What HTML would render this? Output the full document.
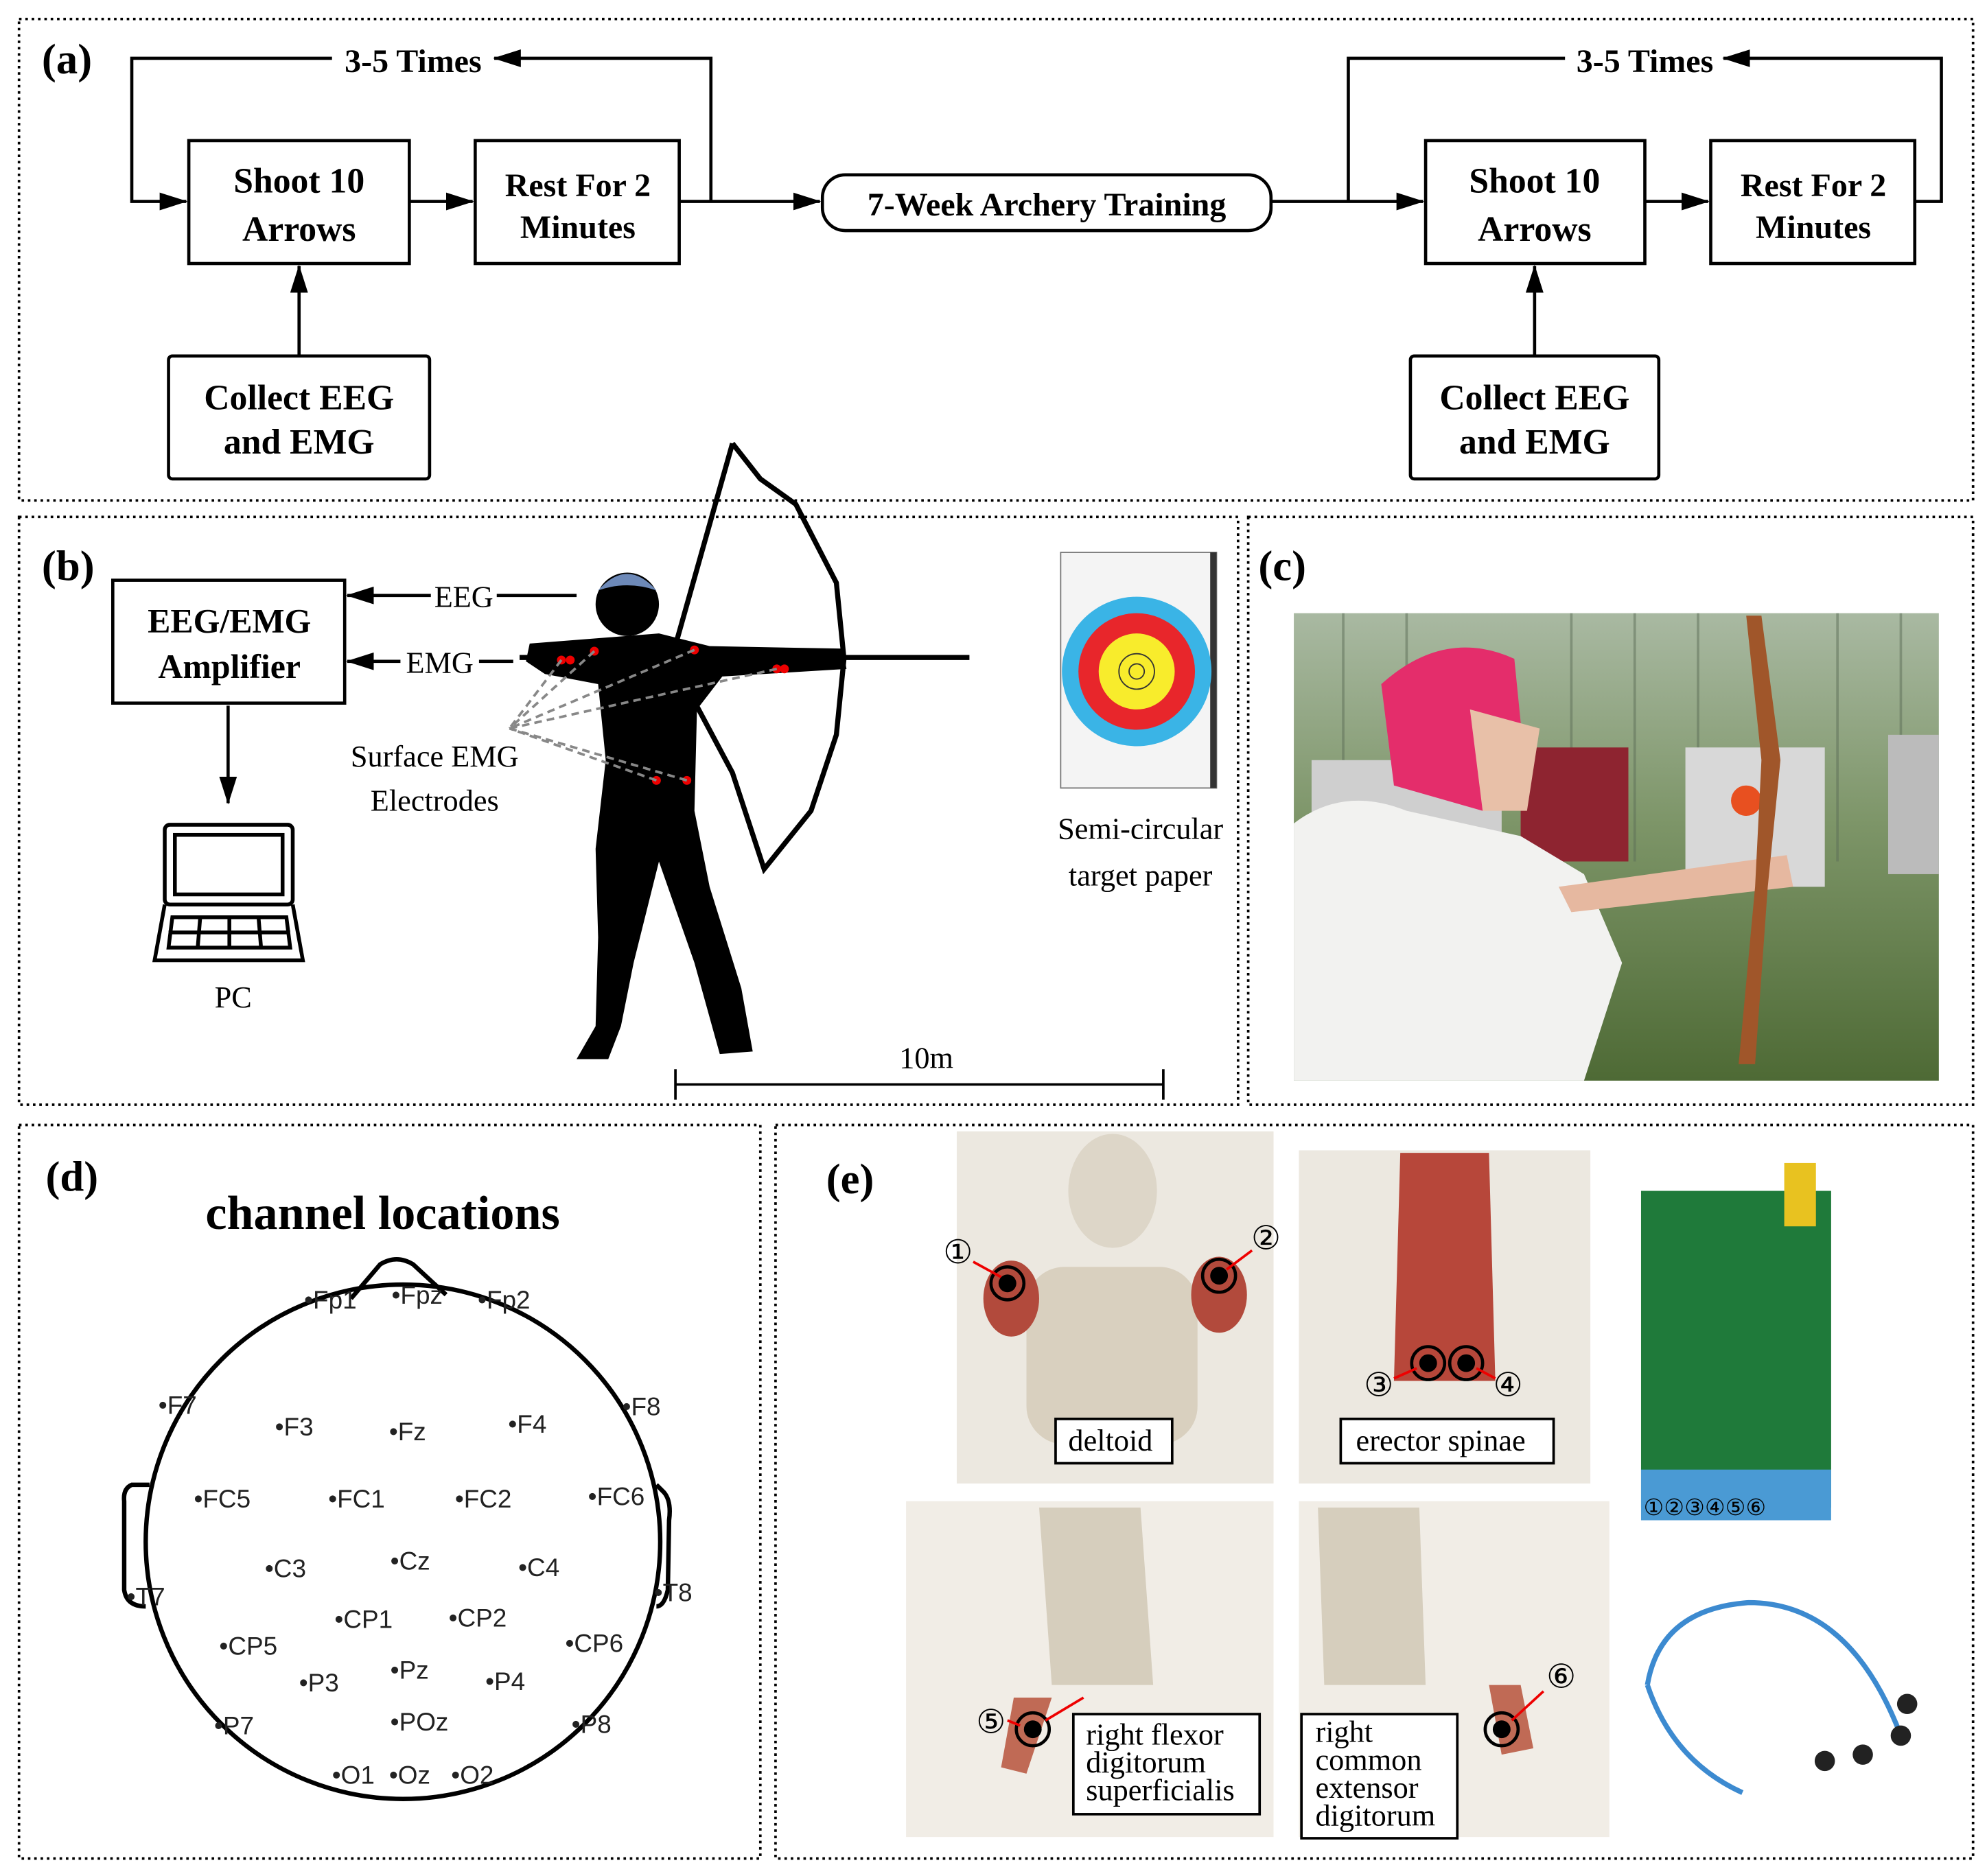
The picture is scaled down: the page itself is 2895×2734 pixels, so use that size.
<!DOCTYPE html>
<html><head><meta charset="utf-8"><style>
html,body{margin:0;padding:0;background:#fff;}
#w{width:2895px;height:2734px;overflow:hidden;position:relative;}
#s{position:absolute;left:0;top:0;width:1568px;height:1481px;transform:scale(1.8463);transform-origin:0 0;}
svg text{font-family:"Liberation Serif",serif;}
svg text.sans{font-family:"Liberation Sans",sans-serif;}
</style></head><body><div id="w"><div id="s">
<svg width="1568" height="1481" viewBox="0 0 1568 1481" xmlns="http://www.w3.org/2000/svg">
<defs>
<marker id="ab" markerWidth="22" markerHeight="14" refX="21" refY="7" orient="auto" markerUnits="userSpaceOnUse"><path d="M0,0 L22,7 L0,14 z" fill="#000"/></marker>
<linearGradient id="ph" x1="0" y1="0" x2="0" y2="1"><stop offset="0" stop-color="#a9b9a2"/><stop offset="0.45" stop-color="#7d9568"/><stop offset="1" stop-color="#4e6a35"/></linearGradient>
</defs>
<g fill="none" stroke="#000" stroke-width="2" stroke-dasharray="2,3">
<rect x="15" y="15" width="1542" height="380"/>
<rect x="15" y="408" width="962" height="464"/>
<rect x="985" y="408" width="572" height="464"/>
<rect x="15" y="888" width="585" height="579"/>
<rect x="612" y="888" width="945" height="579"/>
</g>
<g font-weight="bold" font-size="34">
<text x="33" y="58">(a)</text><text x="33" y="458">(b)</text><text x="993" y="458">(c)</text><text x="36" y="940">(d)</text><text x="652" y="942">(e)</text>
</g>
<!-- (a) -->
<g fill="none" stroke="#000" stroke-width="2.5">
<rect x="149" y="111" width="174" height="97"/><rect x="375" y="111" width="161" height="97"/>
<rect x="649" y="138" width="354" height="44" rx="18"/>
<rect x="1125" y="111" width="173" height="97"/><rect x="1350" y="111" width="161" height="97"/>
<rect x="133" y="281" width="206" height="97" rx="3"/><rect x="1113" y="281" width="196" height="97" rx="3"/>
</g>
<g stroke="#000" stroke-width="2.5" fill="none">
<path d="M323,159 L373,159" marker-end="url(#ab)"/>
<path d="M536,159 L647,159" marker-end="url(#ab)"/>
<path d="M561,159 L561,46 L390,46" marker-end="url(#ab)"/>
<path d="M262,46 L104,46 L104,159 L147,159" marker-end="url(#ab)"/>
<path d="M236,281 L236,210" marker-end="url(#ab)"/>
<path d="M1003,159 L1123,159" marker-end="url(#ab)"/>
<path d="M1298,159 L1348,159" marker-end="url(#ab)"/>
<path d="M1511,159 L1532,159 L1532,46 L1360,46" marker-end="url(#ab)"/>
<path d="M1235,46 L1064,46 L1064,159"/>
<path d="M1211,281 L1211,210" marker-end="url(#ab)"/>
</g>
<g font-weight="bold" text-anchor="middle">
<text x="326" y="57" font-size="26">3-5 Times</text><text x="1298" y="57" font-size="26">3-5 Times</text>
<text x="236" y="152" font-size="28">Shoot 10</text><text x="236" y="190" font-size="28">Arrows</text>
<text x="456" y="155" font-size="26">Rest For 2</text><text x="456" y="188" font-size="26">Minutes</text>
<text x="826" y="170" font-size="26">7-Week Archery Training</text>
<text x="1211" y="152" font-size="28">Shoot 10</text><text x="1211" y="190" font-size="28">Arrows</text>
<text x="1431" y="155" font-size="26">Rest For 2</text><text x="1431" y="188" font-size="26">Minutes</text>
<text x="236" y="323" font-size="28">Collect EEG</text><text x="236" y="358" font-size="28">and EMG</text>
<text x="1211" y="323" font-size="28">Collect EEG</text><text x="1211" y="358" font-size="28">and EMG</text>
</g>
<!-- (b) -->
<rect x="89" y="458" width="183" height="97" fill="none" stroke="#000" stroke-width="2.5"/>
<g font-weight="bold" text-anchor="middle" font-size="27"><text x="181" y="499">EEG/EMG</text><text x="181" y="535">Amplifier</text></g>
<g stroke="#000" stroke-width="2.5" fill="none">
<path d="M340,470 L274,470" marker-end="url(#ab)"/><path d="M455,470 L392,470"/>
<path d="M316,522 L274,522" marker-end="url(#ab)"/><path d="M405,522 L378,522"/>
<path d="M180,557 L180,634" marker-end="url(#ab)"/>
</g>
<g font-size="24" text-anchor="middle"><text x="366" y="479">EEG</text><text x="347" y="531">EMG</text>
<text x="343" y="605">Surface EMG</text><text x="343" y="640">Electrodes</text>
<text x="184" y="795">PC</text><text x="900" y="662">Semi-circular</text><text x="900" y="699">target paper</text>
<text x="731" y="843">10m</text></g>
<g fill="none" stroke="#000" stroke-width="3">
<rect x="130" y="651" width="101" height="63" rx="4"/><rect x="138" y="659" width="85" height="47"/>
<path d="M130,714 L122,758 L239,758 L231,714"/>
<path d="M136,724 L226,724 L229,748 L133,748 z M133,736 L229,736 M158,724 L156,748 M181,724 L181,748 M204,724 L206,748"/>
</g>
<g>
<path d="M578,350 L600,378 L628,398 L660,460 L666,520 L660,580 L640,640 L603,686 L578,610 L530,520 L578,350" fill="none" stroke="#000" stroke-width="4"/>
<path d="M410,519 L765,519" stroke="#000" stroke-width="4"/>
<circle cx="495" cy="477" r="25" fill="#000"/>
<path d="M472,466 Q495,440 518,466 Q495,458 472,466z" fill="#6d89b8"/>
<path d="M418,508 L520,500 L560,510 L665,512 L668,528 L570,534 L550,560 L548,640 L560,700 L585,780 L594,830 L568,832 L548,760 L520,680 L500,760 L490,810 L480,836 L455,836 L470,810 L472,740 L470,670 L478,600 L472,540 L430,532 L415,522z" fill="#000"/>
<g fill="#e00"><circle cx="443" cy="521" r="3.5"/><circle cx="450" cy="521" r="3.5"/><circle cx="469" cy="514" r="3.5"/><circle cx="548" cy="513" r="3.5"/><circle cx="613" cy="528" r="3.5"/><circle cx="619" cy="528" r="3.5"/><circle cx="518" cy="616" r="3.5"/><circle cx="542" cy="616" r="3.5"/></g>
<g stroke="#888" stroke-width="2" stroke-dasharray="6,4" fill="none">
<path d="M443,521 L402,575 M469,514 L402,575 M548,513 L402,575 M613,528 L402,575 M518,616 L402,575 M542,616 L402,575"/>
</g>
</g>
<rect x="837" y="436" width="123" height="186" fill="#f4f4f4" stroke="#777"/>
<rect x="955" y="436" width="5" height="186" fill="#333"/>
<circle cx="897" cy="530" r="59" fill="#3ab4e6"/><circle cx="897" cy="530" r="46" fill="#e8262b"/><circle cx="897" cy="530" r="30" fill="#f8ec2c"/>
<circle cx="897" cy="530" r="14" fill="none" stroke="#333"/><circle cx="897" cy="530" r="6" fill="none" stroke="#333"/>
<g stroke="#000" stroke-width="2"><path d="M533,856 L918,856 M533,844 L533,868 M918,844 L918,868"/></g>
<!-- (c) photo -->
<rect x="1021" y="484" width="509" height="369" fill="url(#ph)"/>
<g stroke="#5d6e58" stroke-width="2" opacity="0.5"><path d="M1060,484 V680 M1110,484 V680 M1240,484 V680 M1290,484 V680 M1340,484 V680 M1450,484 V680 M1500,484 V680"/></g>
<rect x="1200" y="590" width="85" height="90" fill="#8e2430"/>
<rect x="1330" y="590" width="110" height="110" fill="#d8d8d8"/><rect x="1490" y="580" width="40" height="110" fill="#bbb"/>
<circle cx="1378" cy="632" r="12" fill="#e85020"/>
<rect x="1035" y="600" width="150" height="80" fill="#cfcfcf"/>
<path d="M1021,650 Q1060,620 1110,640 L1200,660 L1250,690 L1280,760 L1250,853 L1021,853z" fill="#f2f2f0"/>
<path d="M1230,700 L1410,675 L1415,700 L1240,720z" fill="#e6b8a0"/>
<path d="M1090,540 Q1140,495 1195,520 L1205,620 L1170,640 L1100,620z" fill="#e42d6b"/>
<path d="M1160,560 L1215,575 L1205,640 L1170,640z" fill="#e8c0a8"/>
<path d="M1378,486 L1390,486 L1405,600 L1395,700 L1385,840 L1372,840 L1385,700 L1390,600z" fill="#a0562a"/>
<!-- (d) -->
<text x="302" y="970" font-size="38" font-weight="bold" text-anchor="middle">channel locations</text>
<g fill="none" stroke="#000" stroke-width="3.5">
<circle cx="318" cy="1217" r="203"/>
<path d="M277,1025 L300,998 Q313,990 326,998 L352,1022"/>
<path d="M118,1172 L104,1172 Q97,1175 98,1185 L98,1255 Q100,1268 115,1268"/>
<path d="M518,1172 L524,1178 Q530,1185 528,1200 L527,1255 Q524,1268 518,1268"/>
</g>
<g font-size="20" fill="#222">
<text class="sans" x="240" y="1033">•Fp1</text><text class="sans" x="309" y="1029">•Fpz</text><text class="sans" x="377" y="1033">•Fp2</text>
<text class="sans" x="125" y="1116">•F7</text><text class="sans" x="217" y="1133">•F3</text><text class="sans" x="307" y="1137">•Fz</text><text class="sans" x="401" y="1131">•F4</text><text class="sans" x="491" y="1117">•F8</text>
<text class="sans" x="153" y="1190">•FC5</text><text class="sans" x="259" y="1190">•FC1</text><text class="sans" x="359" y="1190">•FC2</text><text class="sans" x="464" y="1188">•FC6</text>
<text class="sans" x="209" y="1245">•C3</text><text class="sans" x="308" y="1239">•Cz</text><text class="sans" x="409" y="1244">•C4</text>
<text class="sans" x="100" y="1267">•T7</text><text class="sans" x="516" y="1264">•T8</text>
<text class="sans" x="173" y="1306">•CP5</text><text class="sans" x="264" y="1285">•CP1</text><text class="sans" x="354" y="1284">•CP2</text><text class="sans" x="446" y="1304">•CP6</text>
<text class="sans" x="236" y="1335">•P3</text><text class="sans" x="308" y="1325">•Pz</text><text class="sans" x="383" y="1334">•P4</text>
<text class="sans" x="169" y="1369">•P7</text><text class="sans" x="308" y="1366">•POz</text><text class="sans" x="451" y="1368">•P8</text>
<text class="sans" x="262" y="1408">•O1</text><text class="sans" x="307" y="1408">•Oz</text><text class="sans" x="356" y="1408">•O2</text>
</g>
<!-- (e) -->
<g>
<rect x="755" y="893" width="250" height="278" fill="#ece8e0"/>
<ellipse cx="878" cy="940" rx="35" ry="45" fill="#ddd6c8"/>
<rect x="810" y="1000" width="135" height="140" rx="30" fill="#d9d0bf"/>
<ellipse cx="798" cy="1025" rx="22" ry="30" fill="#b24a3c"/><ellipse cx="962" cy="1022" rx="22" ry="30" fill="#b24a3c"/>
<rect x="1025" y="908" width="230" height="263" fill="#ece8e0"/>
<path d="M1105,910 L1175,910 L1180,1090 L1100,1090z" fill="#b7473a"/>
<rect x="1290" y="915" width="165" height="290" fill="#fff"/>
<rect x="1295" y="940" width="150" height="250" fill="#1f7a3a"/>
<rect x="1408" y="918" width="25" height="50" fill="#e8c220"/>
<rect x="1295" y="1160" width="150" height="40" fill="#4a9ad4"/>
<g font-size="18" fill="#000" class="sans"><text class="sans" x="1297" y="1196">①②③④⑤⑥</text></g>
<rect x="715" y="1185" width="290" height="265" fill="#f1ede6"/>
<path d="M820,1190 L900,1190 L910,1330 L830,1330z" fill="#d6cebd"/>
<path d="M800,1340 L830,1340 L810,1400 L790,1395z" fill="#c06a55"/>
<rect x="1025" y="1185" width="245" height="265" fill="#f1ede6"/>
<path d="M1040,1190 L1120,1190 L1125,1330 L1045,1330z" fill="#d6cebd"/>
<path d="M1175,1330 L1200,1330 L1210,1380 L1185,1385z" fill="#c06a55"/>
<path d="M1300,1330 Q1310,1270 1380,1265 Q1460,1265 1500,1370 M1300,1330 Q1320,1390 1375,1415" fill="none" stroke="#3c8ad0" stroke-width="4"/>
<g fill="#222"><circle cx="1440" cy="1390" r="8"/><circle cx="1470" cy="1385" r="8"/><circle cx="1500" cy="1370" r="8"/><circle cx="1505" cy="1345" r="8"/></g>
</g>
<g fill="none" stroke="#000" stroke-width="2.5">
<circle cx="795" cy="1013" r="13"/><circle cx="962" cy="1007" r="13"/><circle cx="1127" cy="1076" r="13"/><circle cx="1157" cy="1076" r="13"/><circle cx="815" cy="1365" r="13"/><circle cx="1185" cy="1365" r="13"/>
</g>
<g fill="#000"><circle cx="795" cy="1013" r="7"/><circle cx="962" cy="1007" r="7"/><circle cx="1127" cy="1076" r="7"/><circle cx="1157" cy="1076" r="7"/><circle cx="815" cy="1365" r="7"/><circle cx="1185" cy="1365" r="7"/></g>
<g stroke="#e00" stroke-width="2"><path d="M768,996 L790,1008 M988,987 L968,1002 M1100,1088 L1118,1080 M1180,1088 L1165,1080 M795,1358 L805,1362 M1218,1335 L1193,1358 M855,1340 L825,1358"/></g>
<g font-size="26" text-anchor="middle">
<text class="sans" x="756" y="997">①</text><text class="sans" x="999" y="986">②</text><text class="sans" x="1088" y="1102">③</text><text class="sans" x="1190" y="1102">④</text><text class="sans" x="782" y="1368">⑤</text><text class="sans" x="1232" y="1332">⑥</text>
</g>
<g fill="#fff" stroke="#000" stroke-width="2">
<rect x="833" y="1120" width="92" height="35"/><rect x="1058" y="1120" width="168" height="35"/>
<rect x="847" y="1353" width="147" height="79"/><rect x="1027" y="1353" width="123" height="98"/>
</g>
<g font-size="24">
<text x="843" y="1145">deltoid</text><text x="1070" y="1145">erector spinae</text>
<text x="857" y="1377">right flexor</text><text x="857" y="1399">digitorum</text><text x="857" y="1421">superficialis</text>
<text x="1038" y="1375">right</text><text x="1038" y="1397">common</text><text x="1038" y="1419">extensor</text><text x="1038" y="1441">digitorum</text>
</g>
</svg>
</div></div></body></html>
